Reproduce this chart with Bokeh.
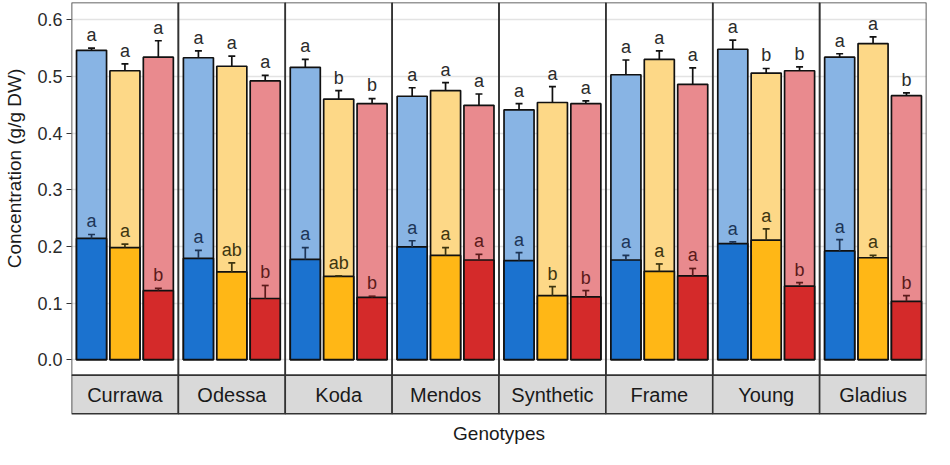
from bokeh.plotting import figure
from bokeh.layouts import row
from bokeh.models import ColumnDataSource, FixedTicker, Range1d
from bokeh.embed import file_html
from bokeh.resources import INLINE
from bokeh.core.properties import value
import math

# ---------------- data ----------------
genotypes = ["Currawa", "Odessa", "Koda", "Mendos", "Synthetic", "Frame", "Young", "Gladius"]
treatments = ["blue", "yellow", "red"]

# tall (light) bars
total_blue = [0.546, 0.533, 0.516, 0.465, 0.441, 0.503, 0.548, 0.534]
total_blue_err = [0.004, 0.012, 0.014, 0.015, 0.011, 0.026, 0.016, 0.006]
total_yellow = [0.510, 0.518, 0.460, 0.475, 0.454, 0.530, 0.506, 0.558]
total_yellow_err = [0.012, 0.018, 0.015, 0.014, 0.028, 0.015, 0.008, 0.012]
total_red = [0.534, 0.492, 0.452, 0.449, 0.452, 0.486, 0.510, 0.466]
total_red_err = [0.029, 0.010, 0.009, 0.020, 0.005, 0.029, 0.007, 0.005]

# short (dark) bars
part_blue = [0.214, 0.179, 0.177, 0.199, 0.175, 0.176, 0.205, 0.192]
part_blue_err = [0.007, 0.014, 0.021, 0.011, 0.014, 0.008, 0.003, 0.020]
part_yellow = [0.198, 0.155, 0.147, 0.184, 0.113, 0.156, 0.211, 0.180]
part_yellow_err = [0.006, 0.016, 0.001, 0.014, 0.016, 0.013, 0.020, 0.004]
part_red = [0.122, 0.108, 0.110, 0.176, 0.111, 0.148, 0.130, 0.103]
part_red_err = [0.004, 0.023, 0.002, 0.010, 0.011, 0.013, 0.006, 0.010]

# significance letters
total_letters_blue = ["a", "a", "a", "a", "a", "a", "a", "a"]
total_letters_yellow = ["a", "a", "b", "a", "a", "a", "b", "a"]
total_letters_red = ["a", "a", "b", "a", "a", "a", "b", "b"]
part_letters_blue = ["a", "a", "a", "a", "a", "a", "a", "a"]
part_letters_yellow = ["a", "ab", "ab", "a", "b", "a", "a", "a"]
part_letters_red = ["b", "b", "b", "a", "b", "a", "b", "b"]

y_ticks = [0.0, 0.1, 0.2, 0.3, 0.4, 0.5, 0.6]
y_tick_labels = ["0.0", "0.1", "0.2", "0.3", "0.4", "0.5", "0.6"]
x_title = "Genotypes"
y_title = "Concentration (g/g DW)"

# ---------------- styling ----------------
light_colors = {"blue": "#88b4e4", "yellow": "#fdd887", "red": "#e98a8e"}
dark_colors = {"blue": "#1b72cf", "yellow": "#ffb716", "red": "#d42a2a"}
part_text_colors = {"blue": "#1d3557", "yellow": "#3d3510", "red": "#5b1a1a"}
FONT = "Liberation Sans"
offsets = {"blue": 0.1875, "yellow": 0.5, "red": 0.8125}
bar_w = 0.281
cap_w = 0.065
Y0, Y1 = -0.1585, 0.6305
STRIP_TOP = -0.0274
STRIP_BOTTOM = -0.0955
LETTER_GAP = 0.023
H = 449
LEFT_W = 30

totals = {"blue": (total_blue, total_blue_err, total_letters_blue),
          "yellow": (total_yellow, total_yellow_err, total_letters_yellow),
          "red": (total_red, total_red_err, total_letters_red)}
parts = {"blue": (part_blue, part_blue_err, part_letters_blue),
         "yellow": (part_yellow, part_yellow_err, part_letters_yellow),
         "red": (part_red, part_red_err, part_letters_red)}

n = len(genotypes)
yr = Range1d(Y0, Y1)

# narrow figure holding the y-axis title
lf = figure(width=LEFT_W, height=H, output_backend="svg", toolbar_location=None,
            x_range=Range1d(0, 1), y_range=yr,
            min_border_left=0, min_border_right=0, min_border_top=2, min_border_bottom=0)
lf.axis.visible = False
lf.grid.visible = False
lf.outline_line_color = None
lf.background_fill_color = "white"
lf.border_fill_color = "white"
lf.text(x=[0.45], y=[0.3375], text=[y_title], angle=math.pi / 2, text_align="center",
        text_baseline="middle", text_font=value(FONT), text_font_size="19px",
        text_color="#1a1a1a")

p = figure(width=934 - LEFT_W, height=H, output_backend="svg", toolbar_location=None,
           x_range=Range1d(0, n), y_range=yr,
           min_border_left=71 - LEFT_W, min_border_right=8, min_border_top=2, min_border_bottom=0)
p.background_fill_color = "white"
p.border_fill_color = "white"
p.outline_line_color = None
p.xgrid.visible = False
p.xaxis.visible = False
p.ygrid.ticker = FixedTicker(ticks=y_ticks)
p.ygrid.grid_line_color = "#e3e3e3"
p.ygrid.grid_line_width = 1.3

ax = p.yaxis[0]
ax.ticker = FixedTicker(ticks=y_ticks)
ax.major_label_overrides = {t: l for t, l in zip(y_ticks, y_tick_labels)}
ax.axis_line_color = None
ax.major_tick_in = 0
ax.major_tick_out = 5
ax.major_tick_line_color = "#333333"
ax.major_tick_line_width = 1.2
ax.minor_tick_line_color = None
ax.major_label_standoff = 4
ax.major_label_text_font = FONT
ax.major_label_text_font_size = "18px"
ax.major_label_text_color = "#2b2b2b"


def draw_series(data, colors, err_color, text_colors):
    for t in treatments:
        vals, errs, letters = data[t]
        xs = [i + offsets[t] for i in range(n)]
        tops = [v + e for v, e in zip(vals, errs)]
        src = ColumnDataSource(dict(x=xs, top=vals, err=tops, lx0=[x - cap_w / 2 for x in xs],
                                    lx1=[x + cap_w / 2 for x in xs],
                                    ly=[v + LETTER_GAP for v in tops], lab=letters))
        p.vbar(x="x", top="top", bottom=0, width=bar_w, source=src, fill_color=colors[t],
               line_color="#111111", line_width=1.7)
        ec = err_color if err_color else text_colors[t]
        p.segment(x0="x", y0="top", x1="x", y1="err", source=src, line_color=ec, line_width=1.7)
        p.segment(x0="lx0", y0="err", x1="lx1", y1="err", source=src, line_color=ec, line_width=1.7)
        tc = text_colors[t] if isinstance(text_colors, dict) else text_colors
        p.text(x="x", y="ly", text="lab", source=src, text_align="center",
               text_baseline="middle", text_font=value(FONT), text_font_size="18px",
               text_color=tc)


draw_series(totals, light_colors, "#111111", "#2b2b2b")
draw_series(parts, dark_colors, None, part_text_colors)

# panel borders and strips
panel_src = ColumnDataSource(dict(left=list(range(n)), right=[i + 1 for i in range(n)],
                                  cx=[i + 0.5 for i in range(n)], name=genotypes))
p.quad(left="left", right="right", bottom=STRIP_TOP, top=Y1, source=panel_src,
       fill_color=None, line_color="#333333", line_width=1.6)
p.quad(left="left", right="right", bottom=STRIP_BOTTOM, top=STRIP_TOP, source=panel_src,
       fill_color="#d9d9d9", line_color="#333333", line_width=1.6)
p.text(x="cx", y=(STRIP_TOP + STRIP_BOTTOM) / 2, text="name", source=panel_src,
       text_align="center", text_baseline="middle", text_font=value(FONT),
       text_font_size="20px", text_color="#1a1a1a")

# x-axis title
p.text(x=[n / 2], y=[-0.1296], text=[x_title], text_align="center", text_baseline="middle",
       text_font=value(FONT), text_font_size="19px", text_color="#1a1a1a")

layout = row(lf, p, spacing=0)
open("out.html", "w").write(file_html(layout, INLINE))
